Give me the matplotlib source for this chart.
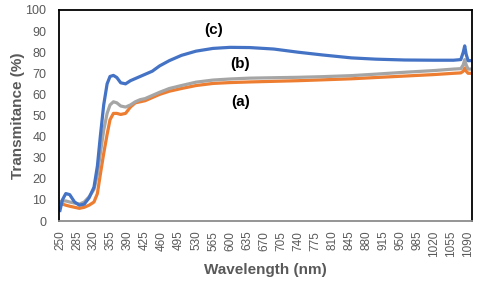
import matplotlib
matplotlib.use("Agg")
import matplotlib.pyplot as plt

wavelength = [250, 255, 262, 270, 280, 290, 300, 310, 320, 327, 333, 340, 347, 353, 360, 367,
              375, 385, 395, 405, 415, 425, 440, 455, 475, 500, 530, 565, 600, 640, 690, 740,
              790, 850, 900, 960, 1020, 1060, 1075, 1080, 1083, 1086, 1090, 1097]

series_a = [9, 8, 7.5, 7, 6.5, 6, 6.5, 7.5, 9, 13, 22, 32, 41, 48, 51, 51,
            50.5, 51, 54, 56, 56.5, 57, 58.5, 60, 61.5, 62.8, 64.2, 65.2, 65.6, 65.9, 66.2, 66.5,
            66.9, 67.4, 68, 68.7, 69.4, 70, 70.2, 71, 72.5, 71, 70, 70]

series_b = [9, 9.5, 9.5, 9, 8.5, 8, 9, 11.5, 15, 22, 32, 43, 51, 55, 56.5, 56,
            54.5, 54, 55, 56.5, 57.5, 58, 59.5, 61, 62.8, 64.2, 65.8, 66.8, 67.3, 67.7, 67.9, 68.1,
            68.4, 68.9, 69.6, 70.5, 71.3, 72, 72.2, 74, 76.5, 74, 72, 72]

series_c = [5, 10, 13, 12.5, 9, 7.5, 8, 11, 16, 26, 40, 55, 65, 68.5, 69, 68,
            65.5, 65, 66.5, 67.5, 68.5, 69.5, 71, 73.5, 76, 78.5, 80.5, 81.8, 82.3, 82.2, 81.5, 80,
            78.7, 77.3, 76.7, 76.3, 76.2, 76.2, 76.5, 80, 83, 79, 76, 76]

labels = ["(a)", "(b)", "(c)"]
label_pos = [(622, 56.5), (620, 74.2), (567, 90.5)]
colors = ["#ED7D31", "#A5A5A5", "#4472C4"]

xticks = list(range(250, 1091, 35))
yticks = list(range(0, 101, 10))

plt.rcParams['font.family'] = ['Liberation Sans', 'DejaVu Sans']

fig = plt.figure(figsize=(4.8, 2.83), dpi=100)
ax = fig.add_axes([59/480, 1 - 221/283, (472 - 59)/480, (221 - 10)/283])

for ys, c in zip([series_a, series_b, series_c], colors):
    ax.plot(wavelength, ys, color=c, lw=2.3, solid_joinstyle='round')

for lab, (x, y) in zip(labels, label_pos):
    ax.text(x, y, lab, fontsize=11, fontweight='bold', color='black', ha='center', va='center')

ax.set_xlim(248, 1098)
ax.set_ylim(0, 100)
ax.set_xticks(xticks)
ax.set_xticklabels([str(v) for v in xticks], rotation=90, fontsize=8.5, color='#595959')
ax.set_yticks(yticks)
ax.set_yticklabels([str(v) for v in yticks], fontsize=9, color='#595959')
ax.tick_params(axis='x', length=0, pad=7)
ax.tick_params(axis='y', length=0, pad=9)

for s in ['left', 'top', 'right']:
    ax.spines[s].set_color('black')
    ax.spines[s].set_linewidth(1.3)
ax.spines['bottom'].set_color('#8c8c8c')
ax.spines['bottom'].set_linewidth(1.3)

ax.set_xlabel("Wavelength (nm)", fontsize=11, fontweight='bold', color='#595959', labelpad=4)
ax.set_ylabel("Transmitance (%)", fontsize=11, fontweight='bold', color='#595959', labelpad=0.5)

fig.savefig("out.png", dpi=100)
